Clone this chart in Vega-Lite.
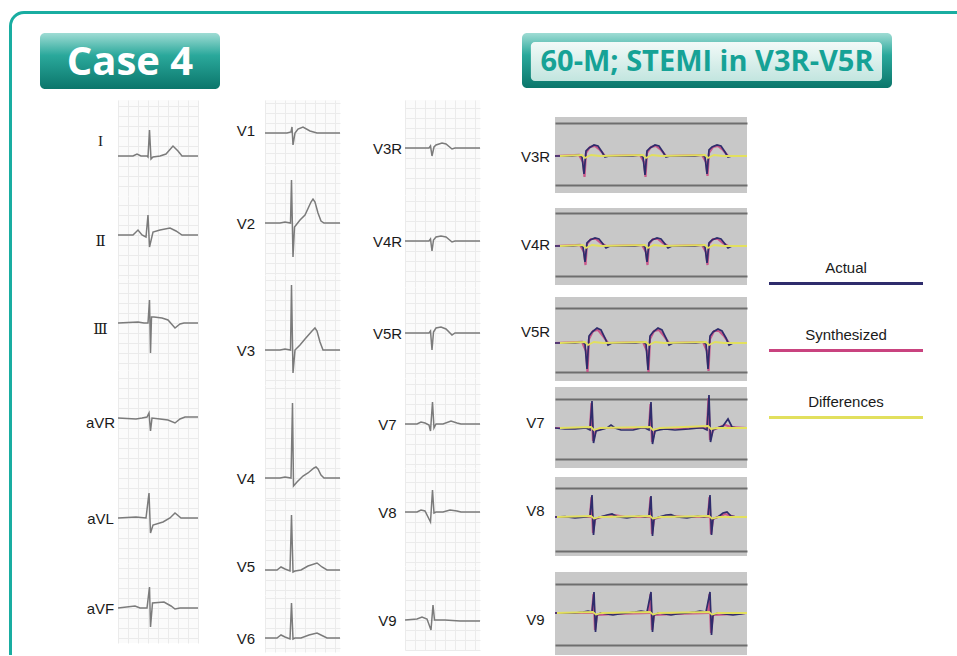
{
"$schema": "https://vega.github.io/schema/vega-lite/v6.json",
"padding": {"left": 9, "top": 11, "right": 0, "bottom": 0},
"background": "white",
"spacing": 0,
"config": {
  "view": {"stroke": null},
  "axis": {"domain": false, "ticks": false, "labelOverlap": false, "labelFlush": false, "labelBound": false, "labelFont": "Liberation Sans", "labelColor": "#1a1a1a", "labelAlign": "center", "labelBaseline": "middle", "labelAngle": 0, "gridColor": "#ebebeb", "gridWidth": 1},
  "axisX": {"labels": false, "grid": true}
},
"datasets": {
  "ecg": [
    {"lead":"I","t":0,"mv":0},{"lead":"I","t":0.15,"mv":0},{"lead":"I","t":0.19,"mv":0.1},{"lead":"I","t":0.23,"mv":0},{"lead":"I","t":0.29,"mv":0},{"lead":"I","t":0.3,"mv":-0.05},{"lead":"I","t":0.315,"mv":1.3},{"lead":"I","t":0.33,"mv":-0.15},{"lead":"I","t":0.35,"mv":-0.05},{"lead":"I","t":0.42,"mv":0},{"lead":"I","t":0.48,"mv":0.1},{"lead":"I","t":0.55,"mv":0.5},{"lead":"I","t":0.6,"mv":0.25},{"lead":"I","t":0.64,"mv":0},{"lead":"I","t":0.8,"mv":0},
    {"lead":"II","t":0,"mv":0},{"lead":"II","t":0.15,"mv":0},{"lead":"II","t":0.2,"mv":0.25},{"lead":"II","t":0.24,"mv":0},{"lead":"II","t":0.28,"mv":-0.1},{"lead":"II","t":0.3,"mv":1.0},{"lead":"II","t":0.315,"mv":-0.6},{"lead":"II","t":0.35,"mv":0.15},{"lead":"II","t":0.42,"mv":0.25},{"lead":"II","t":0.52,"mv":0.35},{"lead":"II","t":0.58,"mv":0.2},{"lead":"II","t":0.64,"mv":0},{"lead":"II","t":0.8,"mv":0},
    {"lead":"III","t":0,"mv":0},{"lead":"III","t":0.2,"mv":0.05},{"lead":"III","t":0.26,"mv":0},{"lead":"III","t":0.3,"mv":0},{"lead":"III","t":0.315,"mv":1.15},{"lead":"III","t":0.325,"mv":-1.5},{"lead":"III","t":0.335,"mv":0.3},{"lead":"III","t":0.36,"mv":0.3},{"lead":"III","t":0.44,"mv":0.25},{"lead":"III","t":0.5,"mv":0.15},{"lead":"III","t":0.57,"mv":-0.25},{"lead":"III","t":0.62,"mv":-0.05},{"lead":"III","t":0.66,"mv":0},{"lead":"III","t":0.8,"mv":0},
    {"lead":"aVR","t":0,"mv":0},{"lead":"aVR","t":0.18,"mv":-0.05},{"lead":"aVR","t":0.24,"mv":0},{"lead":"aVR","t":0.29,"mv":0.05},{"lead":"aVR","t":0.31,"mv":0.25},{"lead":"aVR","t":0.325,"mv":-0.65},{"lead":"aVR","t":0.34,"mv":0},{"lead":"aVR","t":0.42,"mv":-0.05},{"lead":"aVR","t":0.5,"mv":-0.1},{"lead":"aVR","t":0.57,"mv":-0.25},{"lead":"aVR","t":0.62,"mv":-0.05},{"lead":"aVR","t":0.67,"mv":0.05},{"lead":"aVR","t":0.8,"mv":0.05},
    {"lead":"aVL","t":0,"mv":0},{"lead":"aVL","t":0.18,"mv":0.05},{"lead":"aVL","t":0.28,"mv":0},{"lead":"aVL","t":0.31,"mv":1.25},{"lead":"aVL","t":0.325,"mv":-0.75},{"lead":"aVL","t":0.35,"mv":-0.35},{"lead":"aVL","t":0.45,"mv":-0.2},{"lead":"aVL","t":0.52,"mv":0},{"lead":"aVL","t":0.57,"mv":0.25},{"lead":"aVL","t":0.63,"mv":0},{"lead":"aVL","t":0.8,"mv":0},
    {"lead":"aVF","t":0,"mv":0},{"lead":"aVF","t":0.17,"mv":0.1},{"lead":"aVF","t":0.22,"mv":0},{"lead":"aVF","t":0.29,"mv":0},{"lead":"aVF","t":0.315,"mv":1.05},{"lead":"aVF","t":0.325,"mv":-0.95},{"lead":"aVF","t":0.345,"mv":0.25},{"lead":"aVF","t":0.46,"mv":0.3},{"lead":"aVF","t":0.53,"mv":0.1},{"lead":"aVF","t":0.57,"mv":-0.05},{"lead":"aVF","t":0.62,"mv":0},{"lead":"aVF","t":0.8,"mv":0},
    {"lead":"V1","t":0,"mv":0},{"lead":"V1","t":0.22,"mv":0},{"lead":"V1","t":0.26,"mv":0.05},{"lead":"V1","t":0.27,"mv":0.3},{"lead":"V1","t":0.28,"mv":-0.6},{"lead":"V1","t":0.3,"mv":0},{"lead":"V1","t":0.33,"mv":0.2},{"lead":"V1","t":0.38,"mv":0.3},{"lead":"V1","t":0.45,"mv":0.1},{"lead":"V1","t":0.52,"mv":0},{"lead":"V1","t":0.75,"mv":0},
    {"lead":"V2","t":0,"mv":0},{"lead":"V2","t":0.15,"mv":0},{"lead":"V2","t":0.2,"mv":0.05},{"lead":"V2","t":0.255,"mv":0},{"lead":"V2","t":0.265,"mv":2.15},{"lead":"V2","t":0.28,"mv":-1.7},{"lead":"V2","t":0.295,"mv":-0.2},{"lead":"V2","t":0.35,"mv":0.15},{"lead":"V2","t":0.4,"mv":0.4},{"lead":"V2","t":0.46,"mv":1.05},{"lead":"V2","t":0.48,"mv":1.2},{"lead":"V2","t":0.5,"mv":1.05},{"lead":"V2","t":0.53,"mv":0.5},{"lead":"V2","t":0.56,"mv":0.1},{"lead":"V2","t":0.59,"mv":0},{"lead":"V2","t":0.75,"mv":0},
    {"lead":"V3","t":0,"mv":0},{"lead":"V3","t":0.15,"mv":0},{"lead":"V3","t":0.2,"mv":0.05},{"lead":"V3","t":0.255,"mv":0},{"lead":"V3","t":0.265,"mv":3.25},{"lead":"V3","t":0.28,"mv":-1.15},{"lead":"V3","t":0.3,"mv":0},{"lead":"V3","t":0.35,"mv":0.25},{"lead":"V3","t":0.4,"mv":0.55},{"lead":"V3","t":0.47,"mv":0.95},{"lead":"V3","t":0.5,"mv":1.1},{"lead":"V3","t":0.52,"mv":0.95},{"lead":"V3","t":0.55,"mv":0.4},{"lead":"V3","t":0.58,"mv":0},{"lead":"V3","t":0.75,"mv":0},
    {"lead":"V4","t":0,"mv":0},{"lead":"V4","t":0.15,"mv":0},{"lead":"V4","t":0.2,"mv":0.05},{"lead":"V4","t":0.26,"mv":0},{"lead":"V4","t":0.275,"mv":3.75},{"lead":"V4","t":0.285,"mv":-0.4},{"lead":"V4","t":0.32,"mv":-0.2},{"lead":"V4","t":0.38,"mv":0.1},{"lead":"V4","t":0.43,"mv":0.25},{"lead":"V4","t":0.49,"mv":0.5},{"lead":"V4","t":0.51,"mv":0.55},{"lead":"V4","t":0.53,"mv":0.45},{"lead":"V4","t":0.56,"mv":0.15},{"lead":"V4","t":0.59,"mv":0},{"lead":"V4","t":0.75,"mv":0},
    {"lead":"V5","t":0,"mv":0},{"lead":"V5","t":0.12,"mv":0},{"lead":"V5","t":0.16,"mv":0.15},{"lead":"V5","t":0.2,"mv":0.05},{"lead":"V5","t":0.25,"mv":-0.05},{"lead":"V5","t":0.265,"mv":2.75},{"lead":"V5","t":0.28,"mv":-0.1},{"lead":"V5","t":0.3,"mv":-0.05},{"lead":"V5","t":0.36,"mv":0},{"lead":"V5","t":0.43,"mv":0.2},{"lead":"V5","t":0.52,"mv":0.35},{"lead":"V5","t":0.57,"mv":0.15},{"lead":"V5","t":0.62,"mv":0},{"lead":"V5","t":0.75,"mv":0},
    {"lead":"V6","t":0,"mv":0},{"lead":"V6","t":0.12,"mv":0},{"lead":"V6","t":0.16,"mv":0.15},{"lead":"V6","t":0.2,"mv":0.05},{"lead":"V6","t":0.25,"mv":-0.05},{"lead":"V6","t":0.265,"mv":1.75},{"lead":"V6","t":0.28,"mv":-0.05},{"lead":"V6","t":0.3,"mv":0},{"lead":"V6","t":0.36,"mv":0},{"lead":"V6","t":0.44,"mv":0.15},{"lead":"V6","t":0.52,"mv":0.25},{"lead":"V6","t":0.58,"mv":0.1},{"lead":"V6","t":0.62,"mv":0},{"lead":"V6","t":0.75,"mv":0},
    {"lead":"V3R","t":0,"mv":0},{"lead":"V3R","t":0.24,"mv":0},{"lead":"V3R","t":0.255,"mv":0.1},{"lead":"V3R","t":0.27,"mv":-0.4},{"lead":"V3R","t":0.29,"mv":0.05},{"lead":"V3R","t":0.31,"mv":0.15},{"lead":"V3R","t":0.37,"mv":0.25},{"lead":"V3R","t":0.41,"mv":0.2},{"lead":"V3R","t":0.47,"mv":-0.05},{"lead":"V3R","t":0.5,"mv":0},{"lead":"V3R","t":0.75,"mv":0},
    {"lead":"V4R","t":0,"mv":0},{"lead":"V4R","t":0.24,"mv":0},{"lead":"V4R","t":0.255,"mv":0.1},{"lead":"V4R","t":0.27,"mv":-0.5},{"lead":"V4R","t":0.285,"mv":0.05},{"lead":"V4R","t":0.31,"mv":0.2},{"lead":"V4R","t":0.36,"mv":0.25},{"lead":"V4R","t":0.41,"mv":0.2},{"lead":"V4R","t":0.47,"mv":-0.05},{"lead":"V4R","t":0.5,"mv":0},{"lead":"V4R","t":0.75,"mv":0},
    {"lead":"V5R","t":0,"mv":0},{"lead":"V5R","t":0.24,"mv":0},{"lead":"V5R","t":0.255,"mv":0.1},{"lead":"V5R","t":0.27,"mv":-0.85},{"lead":"V5R","t":0.285,"mv":0.05},{"lead":"V5R","t":0.31,"mv":0.25},{"lead":"V5R","t":0.36,"mv":0.3},{"lead":"V5R","t":0.41,"mv":0.2},{"lead":"V5R","t":0.47,"mv":-0.1},{"lead":"V5R","t":0.5,"mv":0},{"lead":"V5R","t":0.75,"mv":0},
    {"lead":"V7","t":0,"mv":0},{"lead":"V7","t":0.12,"mv":0},{"lead":"V7","t":0.16,"mv":0.1},{"lead":"V7","t":0.2,"mv":0.05},{"lead":"V7","t":0.24,"mv":-0.05},{"lead":"V7","t":0.255,"mv":-0.35},{"lead":"V7","t":0.275,"mv":1.1},{"lead":"V7","t":0.29,"mv":-0.2},{"lead":"V7","t":0.31,"mv":0},{"lead":"V7","t":0.38,"mv":0},{"lead":"V7","t":0.46,"mv":0.15},{"lead":"V7","t":0.52,"mv":0.05},{"lead":"V7","t":0.56,"mv":0},{"lead":"V7","t":0.75,"mv":0},
    {"lead":"V8","t":0,"mv":0},{"lead":"V8","t":0.12,"mv":0},{"lead":"V8","t":0.16,"mv":0.1},{"lead":"V8","t":0.2,"mv":0.05},{"lead":"V8","t":0.255,"mv":-0.5},{"lead":"V8","t":0.275,"mv":1.1},{"lead":"V8","t":0.29,"mv":-0.05},{"lead":"V8","t":0.31,"mv":0},{"lead":"V8","t":0.38,"mv":0},{"lead":"V8","t":0.45,"mv":0.1},{"lead":"V8","t":0.52,"mv":0.05},{"lead":"V8","t":0.56,"mv":0},{"lead":"V8","t":0.75,"mv":0},
    {"lead":"V9","t":0,"mv":0},{"lead":"V9","t":0.12,"mv":0.05},{"lead":"V9","t":0.17,"mv":0.15},{"lead":"V9","t":0.22,"mv":0.05},{"lead":"V9","t":0.26,"mv":-0.5},{"lead":"V9","t":0.28,"mv":0.75},{"lead":"V9","t":0.295,"mv":0},{"lead":"V9","t":0.4,"mv":0},{"lead":"V9","t":0.55,"mv":-0.05},{"lead":"V9","t":0.75,"mv":-0.05}
  ],
  "panel": [
    {"lead":"V3R","series":"Actual","t":0,"mv":0},{"lead":"V3R","series":"Actual","t":0.17,"mv":0},{"lead":"V3R","series":"Actual","t":0.24,"mv":0.05},{"lead":"V3R","series":"Actual","t":0.27,"mv":-0.05},{"lead":"V3R","series":"Actual","t":0.29,"mv":-0.9},{"lead":"V3R","series":"Actual","t":0.31,"mv":0.25},{"lead":"V3R","series":"Actual","t":0.34,"mv":0.4},{"lead":"V3R","series":"Actual","t":0.39,"mv":0.55},{"lead":"V3R","series":"Actual","t":0.43,"mv":0.5},{"lead":"V3R","series":"Actual","t":0.47,"mv":0.2},{"lead":"V3R","series":"Actual","t":0.5,"mv":-0.05},{"lead":"V3R","series":"Actual","t":0.54,"mv":0},{"lead":"V3R","series":"Actual","t":0.78,"mv":0},{"lead":"V3R","series":"Actual","t":0.85,"mv":0.05},{"lead":"V3R","series":"Actual","t":0.88,"mv":-0.05},{"lead":"V3R","series":"Actual","t":0.9,"mv":-0.95},{"lead":"V3R","series":"Actual","t":0.92,"mv":0.25},{"lead":"V3R","series":"Actual","t":0.95,"mv":0.4},{"lead":"V3R","series":"Actual","t":1.0,"mv":0.55},{"lead":"V3R","series":"Actual","t":1.04,"mv":0.5},{"lead":"V3R","series":"Actual","t":1.08,"mv":0.2},{"lead":"V3R","series":"Actual","t":1.11,"mv":-0.05},{"lead":"V3R","series":"Actual","t":1.15,"mv":0},{"lead":"V3R","series":"Actual","t":1.4,"mv":0},{"lead":"V3R","series":"Actual","t":1.47,"mv":0.05},{"lead":"V3R","series":"Actual","t":1.5,"mv":-0.05},{"lead":"V3R","series":"Actual","t":1.52,"mv":-0.9},{"lead":"V3R","series":"Actual","t":1.54,"mv":0.3},{"lead":"V3R","series":"Actual","t":1.57,"mv":0.45},{"lead":"V3R","series":"Actual","t":1.62,"mv":0.55},{"lead":"V3R","series":"Actual","t":1.66,"mv":0.5},{"lead":"V3R","series":"Actual","t":1.7,"mv":0.2},{"lead":"V3R","series":"Actual","t":1.73,"mv":-0.05},{"lead":"V3R","series":"Actual","t":1.77,"mv":0},{"lead":"V3R","series":"Actual","t":1.92,"mv":0},
    {"lead":"V3R","series":"Synthesized","t":0,"mv":0},{"lead":"V3R","series":"Synthesized","t":0.24,"mv":0.05},{"lead":"V3R","series":"Synthesized","t":0.28,"mv":-0.3},{"lead":"V3R","series":"Synthesized","t":0.295,"mv":-1.05},{"lead":"V3R","series":"Synthesized","t":0.31,"mv":0.15},{"lead":"V3R","series":"Synthesized","t":0.35,"mv":0.45},{"lead":"V3R","series":"Synthesized","t":0.4,"mv":0.5},{"lead":"V3R","series":"Synthesized","t":0.45,"mv":0.3},{"lead":"V3R","series":"Synthesized","t":0.5,"mv":0},{"lead":"V3R","series":"Synthesized","t":0.85,"mv":0.05},{"lead":"V3R","series":"Synthesized","t":0.89,"mv":-0.3},{"lead":"V3R","series":"Synthesized","t":0.905,"mv":-1.05},{"lead":"V3R","series":"Synthesized","t":0.92,"mv":0.15},{"lead":"V3R","series":"Synthesized","t":0.96,"mv":0.45},{"lead":"V3R","series":"Synthesized","t":1.01,"mv":0.5},{"lead":"V3R","series":"Synthesized","t":1.06,"mv":0.3},{"lead":"V3R","series":"Synthesized","t":1.11,"mv":0},{"lead":"V3R","series":"Synthesized","t":1.47,"mv":0.05},{"lead":"V3R","series":"Synthesized","t":1.51,"mv":-0.3},{"lead":"V3R","series":"Synthesized","t":1.525,"mv":-1.0},{"lead":"V3R","series":"Synthesized","t":1.54,"mv":0.15},{"lead":"V3R","series":"Synthesized","t":1.58,"mv":0.45},{"lead":"V3R","series":"Synthesized","t":1.63,"mv":0.5},{"lead":"V3R","series":"Synthesized","t":1.68,"mv":0.3},{"lead":"V3R","series":"Synthesized","t":1.73,"mv":0},{"lead":"V3R","series":"Synthesized","t":1.92,"mv":0},
    {"lead":"V3R","series":"Differences","t":0.05,"mv":0},{"lead":"V3R","series":"Differences","t":0.27,"mv":0.05},{"lead":"V3R","series":"Differences","t":0.3,"mv":-0.1},{"lead":"V3R","series":"Differences","t":0.36,"mv":0.05},{"lead":"V3R","series":"Differences","t":0.45,"mv":0},{"lead":"V3R","series":"Differences","t":0.88,"mv":0.05},{"lead":"V3R","series":"Differences","t":0.91,"mv":-0.1},{"lead":"V3R","series":"Differences","t":0.97,"mv":0.05},{"lead":"V3R","series":"Differences","t":1.06,"mv":0},{"lead":"V3R","series":"Differences","t":1.5,"mv":0.05},{"lead":"V3R","series":"Differences","t":1.53,"mv":-0.1},{"lead":"V3R","series":"Differences","t":1.59,"mv":0.05},{"lead":"V3R","series":"Differences","t":1.68,"mv":0},{"lead":"V3R","series":"Differences","t":1.92,"mv":0},
    {"lead":"V4R","series":"Actual","t":0,"mv":0},{"lead":"V4R","series":"Actual","t":0.18,"mv":0},{"lead":"V4R","series":"Actual","t":0.25,"mv":0.05},{"lead":"V4R","series":"Actual","t":0.28,"mv":-0.05},{"lead":"V4R","series":"Actual","t":0.3,"mv":-0.8},{"lead":"V4R","series":"Actual","t":0.32,"mv":0.15},{"lead":"V4R","series":"Actual","t":0.35,"mv":0.3},{"lead":"V4R","series":"Actual","t":0.4,"mv":0.4},{"lead":"V4R","series":"Actual","t":0.44,"mv":0.35},{"lead":"V4R","series":"Actual","t":0.48,"mv":0.1},{"lead":"V4R","series":"Actual","t":0.51,"mv":-0.1},{"lead":"V4R","series":"Actual","t":0.55,"mv":0},{"lead":"V4R","series":"Actual","t":0.8,"mv":0},{"lead":"V4R","series":"Actual","t":0.87,"mv":0.05},{"lead":"V4R","series":"Actual","t":0.9,"mv":-0.05},{"lead":"V4R","series":"Actual","t":0.92,"mv":-0.8},{"lead":"V4R","series":"Actual","t":0.94,"mv":0.15},{"lead":"V4R","series":"Actual","t":0.97,"mv":0.3},{"lead":"V4R","series":"Actual","t":1.02,"mv":0.4},{"lead":"V4R","series":"Actual","t":1.06,"mv":0.35},{"lead":"V4R","series":"Actual","t":1.1,"mv":0.1},{"lead":"V4R","series":"Actual","t":1.13,"mv":-0.1},{"lead":"V4R","series":"Actual","t":1.17,"mv":0},{"lead":"V4R","series":"Actual","t":1.4,"mv":0},{"lead":"V4R","series":"Actual","t":1.47,"mv":0.05},{"lead":"V4R","series":"Actual","t":1.5,"mv":-0.05},{"lead":"V4R","series":"Actual","t":1.52,"mv":-0.85},{"lead":"V4R","series":"Actual","t":1.54,"mv":0.15},{"lead":"V4R","series":"Actual","t":1.57,"mv":0.3},{"lead":"V4R","series":"Actual","t":1.62,"mv":0.4},{"lead":"V4R","series":"Actual","t":1.66,"mv":0.35},{"lead":"V4R","series":"Actual","t":1.7,"mv":0.1},{"lead":"V4R","series":"Actual","t":1.73,"mv":-0.1},{"lead":"V4R","series":"Actual","t":1.77,"mv":0},{"lead":"V4R","series":"Actual","t":1.92,"mv":0},
    {"lead":"V4R","series":"Synthesized","t":0,"mv":0},{"lead":"V4R","series":"Synthesized","t":0.25,"mv":0.05},{"lead":"V4R","series":"Synthesized","t":0.29,"mv":-0.3},{"lead":"V4R","series":"Synthesized","t":0.305,"mv":-0.95},{"lead":"V4R","series":"Synthesized","t":0.32,"mv":0.1},{"lead":"V4R","series":"Synthesized","t":0.36,"mv":0.35},{"lead":"V4R","series":"Synthesized","t":0.41,"mv":0.35},{"lead":"V4R","series":"Synthesized","t":0.46,"mv":0.15},{"lead":"V4R","series":"Synthesized","t":0.51,"mv":0},{"lead":"V4R","series":"Synthesized","t":0.87,"mv":0.05},{"lead":"V4R","series":"Synthesized","t":0.91,"mv":-0.3},{"lead":"V4R","series":"Synthesized","t":0.925,"mv":-0.95},{"lead":"V4R","series":"Synthesized","t":0.94,"mv":0.1},{"lead":"V4R","series":"Synthesized","t":0.98,"mv":0.35},{"lead":"V4R","series":"Synthesized","t":1.03,"mv":0.35},{"lead":"V4R","series":"Synthesized","t":1.08,"mv":0.15},{"lead":"V4R","series":"Synthesized","t":1.13,"mv":0},{"lead":"V4R","series":"Synthesized","t":1.47,"mv":0.05},{"lead":"V4R","series":"Synthesized","t":1.51,"mv":-0.3},{"lead":"V4R","series":"Synthesized","t":1.525,"mv":-0.95},{"lead":"V4R","series":"Synthesized","t":1.54,"mv":0.1},{"lead":"V4R","series":"Synthesized","t":1.58,"mv":0.35},{"lead":"V4R","series":"Synthesized","t":1.63,"mv":0.35},{"lead":"V4R","series":"Synthesized","t":1.68,"mv":0.15},{"lead":"V4R","series":"Synthesized","t":1.73,"mv":0},{"lead":"V4R","series":"Synthesized","t":1.92,"mv":0},
    {"lead":"V4R","series":"Differences","t":0.05,"mv":0},{"lead":"V4R","series":"Differences","t":0.28,"mv":0.05},{"lead":"V4R","series":"Differences","t":0.31,"mv":-0.1},{"lead":"V4R","series":"Differences","t":0.37,"mv":0.05},{"lead":"V4R","series":"Differences","t":0.46,"mv":0},{"lead":"V4R","series":"Differences","t":0.9,"mv":0.05},{"lead":"V4R","series":"Differences","t":0.93,"mv":-0.1},{"lead":"V4R","series":"Differences","t":0.99,"mv":0.05},{"lead":"V4R","series":"Differences","t":1.08,"mv":0},{"lead":"V4R","series":"Differences","t":1.5,"mv":0.05},{"lead":"V4R","series":"Differences","t":1.53,"mv":-0.1},{"lead":"V4R","series":"Differences","t":1.59,"mv":0.05},{"lead":"V4R","series":"Differences","t":1.68,"mv":0},{"lead":"V4R","series":"Differences","t":1.92,"mv":0},
    {"lead":"V5R","series":"Actual","t":0,"mv":0},{"lead":"V5R","series":"Actual","t":0.2,"mv":0},{"lead":"V5R","series":"Actual","t":0.27,"mv":0.05},{"lead":"V5R","series":"Actual","t":0.3,"mv":-0.05},{"lead":"V5R","series":"Actual","t":0.32,"mv":-1.3},{"lead":"V5R","series":"Actual","t":0.34,"mv":0.35},{"lead":"V5R","series":"Actual","t":0.37,"mv":0.55},{"lead":"V5R","series":"Actual","t":0.42,"mv":0.75},{"lead":"V5R","series":"Actual","t":0.46,"mv":0.65},{"lead":"V5R","series":"Actual","t":0.5,"mv":0.25},{"lead":"V5R","series":"Actual","t":0.53,"mv":-0.1},{"lead":"V5R","series":"Actual","t":0.57,"mv":0},{"lead":"V5R","series":"Actual","t":0.81,"mv":0},{"lead":"V5R","series":"Actual","t":0.88,"mv":0.05},{"lead":"V5R","series":"Actual","t":0.91,"mv":-0.05},{"lead":"V5R","series":"Actual","t":0.93,"mv":-1.35},{"lead":"V5R","series":"Actual","t":0.95,"mv":0.35},{"lead":"V5R","series":"Actual","t":0.98,"mv":0.55},{"lead":"V5R","series":"Actual","t":1.03,"mv":0.75},{"lead":"V5R","series":"Actual","t":1.07,"mv":0.65},{"lead":"V5R","series":"Actual","t":1.11,"mv":0.25},{"lead":"V5R","series":"Actual","t":1.14,"mv":-0.1},{"lead":"V5R","series":"Actual","t":1.18,"mv":0},{"lead":"V5R","series":"Actual","t":1.41,"mv":0},{"lead":"V5R","series":"Actual","t":1.48,"mv":0.05},{"lead":"V5R","series":"Actual","t":1.51,"mv":-0.05},{"lead":"V5R","series":"Actual","t":1.53,"mv":-1.3},{"lead":"V5R","series":"Actual","t":1.55,"mv":0.35},{"lead":"V5R","series":"Actual","t":1.58,"mv":0.55},{"lead":"V5R","series":"Actual","t":1.63,"mv":0.7},{"lead":"V5R","series":"Actual","t":1.67,"mv":0.6},{"lead":"V5R","series":"Actual","t":1.71,"mv":0.25},{"lead":"V5R","series":"Actual","t":1.74,"mv":-0.1},{"lead":"V5R","series":"Actual","t":1.78,"mv":0},{"lead":"V5R","series":"Actual","t":1.92,"mv":0},
    {"lead":"V5R","series":"Synthesized","t":0,"mv":0},{"lead":"V5R","series":"Synthesized","t":0.27,"mv":0.05},{"lead":"V5R","series":"Synthesized","t":0.31,"mv":-0.4},{"lead":"V5R","series":"Synthesized","t":0.325,"mv":-1.45},{"lead":"V5R","series":"Synthesized","t":0.34,"mv":0.2},{"lead":"V5R","series":"Synthesized","t":0.38,"mv":0.6},{"lead":"V5R","series":"Synthesized","t":0.43,"mv":0.65},{"lead":"V5R","series":"Synthesized","t":0.48,"mv":0.35},{"lead":"V5R","series":"Synthesized","t":0.53,"mv":0},{"lead":"V5R","series":"Synthesized","t":0.88,"mv":0.05},{"lead":"V5R","series":"Synthesized","t":0.92,"mv":-0.4},{"lead":"V5R","series":"Synthesized","t":0.935,"mv":-1.45},{"lead":"V5R","series":"Synthesized","t":0.95,"mv":0.2},{"lead":"V5R","series":"Synthesized","t":0.99,"mv":0.6},{"lead":"V5R","series":"Synthesized","t":1.04,"mv":0.65},{"lead":"V5R","series":"Synthesized","t":1.09,"mv":0.35},{"lead":"V5R","series":"Synthesized","t":1.14,"mv":0},{"lead":"V5R","series":"Synthesized","t":1.48,"mv":0.05},{"lead":"V5R","series":"Synthesized","t":1.52,"mv":-0.4},{"lead":"V5R","series":"Synthesized","t":1.535,"mv":-1.4},{"lead":"V5R","series":"Synthesized","t":1.55,"mv":0.2},{"lead":"V5R","series":"Synthesized","t":1.59,"mv":0.6},{"lead":"V5R","series":"Synthesized","t":1.64,"mv":0.6},{"lead":"V5R","series":"Synthesized","t":1.69,"mv":0.35},{"lead":"V5R","series":"Synthesized","t":1.74,"mv":0},{"lead":"V5R","series":"Synthesized","t":1.92,"mv":0},
    {"lead":"V5R","series":"Differences","t":0.05,"mv":0},{"lead":"V5R","series":"Differences","t":0.3,"mv":0.05},{"lead":"V5R","series":"Differences","t":0.33,"mv":-0.1},{"lead":"V5R","series":"Differences","t":0.39,"mv":0.05},{"lead":"V5R","series":"Differences","t":0.48,"mv":0},{"lead":"V5R","series":"Differences","t":0.91,"mv":0.05},{"lead":"V5R","series":"Differences","t":0.94,"mv":-0.1},{"lead":"V5R","series":"Differences","t":1.0,"mv":0.05},{"lead":"V5R","series":"Differences","t":1.09,"mv":0},{"lead":"V5R","series":"Differences","t":1.51,"mv":0.05},{"lead":"V5R","series":"Differences","t":1.54,"mv":-0.1},{"lead":"V5R","series":"Differences","t":1.6,"mv":0.05},{"lead":"V5R","series":"Differences","t":1.69,"mv":0},{"lead":"V5R","series":"Differences","t":1.92,"mv":0},
    {"lead":"V7","series":"Actual","t":0,"mv":0},{"lead":"V7","series":"Actual","t":0.1,"mv":-0.05},{"lead":"V7","series":"Actual","t":0.2,"mv":-0.05},{"lead":"V7","series":"Actual","t":0.31,"mv":0},{"lead":"V7","series":"Actual","t":0.35,"mv":-0.1},{"lead":"V7","series":"Actual","t":0.37,"mv":1.35},{"lead":"V7","series":"Actual","t":0.385,"mv":-0.75},{"lead":"V7","series":"Actual","t":0.41,"mv":-0.15},{"lead":"V7","series":"Actual","t":0.45,"mv":-0.1},{"lead":"V7","series":"Actual","t":0.52,"mv":0},{"lead":"V7","series":"Actual","t":0.56,"mv":0.15},{"lead":"V7","series":"Actual","t":0.6,"mv":0},{"lead":"V7","series":"Actual","t":0.66,"mv":-0.1},{"lead":"V7","series":"Actual","t":0.78,"mv":-0.1},{"lead":"V7","series":"Actual","t":0.86,"mv":0},{"lead":"V7","series":"Actual","t":0.9,"mv":0},{"lead":"V7","series":"Actual","t":0.94,"mv":-0.1},{"lead":"V7","series":"Actual","t":0.96,"mv":1.3},{"lead":"V7","series":"Actual","t":0.975,"mv":-0.8},{"lead":"V7","series":"Actual","t":1.0,"mv":-0.15},{"lead":"V7","series":"Actual","t":1.04,"mv":-0.1},{"lead":"V7","series":"Actual","t":1.1,"mv":-0.05},{"lead":"V7","series":"Actual","t":1.2,"mv":-0.1},{"lead":"V7","series":"Actual","t":1.34,"mv":-0.05},{"lead":"V7","series":"Actual","t":1.44,"mv":0},{"lead":"V7","series":"Actual","t":1.48,"mv":0},{"lead":"V7","series":"Actual","t":1.52,"mv":-0.1},{"lead":"V7","series":"Actual","t":1.54,"mv":1.65},{"lead":"V7","series":"Actual","t":1.555,"mv":-0.7},{"lead":"V7","series":"Actual","t":1.58,"mv":-0.1},{"lead":"V7","series":"Actual","t":1.62,"mv":0},{"lead":"V7","series":"Actual","t":1.68,"mv":0.1},{"lead":"V7","series":"Actual","t":1.73,"mv":0.45},{"lead":"V7","series":"Actual","t":1.77,"mv":0.05},{"lead":"V7","series":"Actual","t":1.82,"mv":0},{"lead":"V7","series":"Actual","t":1.92,"mv":0},
    {"lead":"V7","series":"Synthesized","t":0,"mv":0},{"lead":"V7","series":"Synthesized","t":0.35,"mv":0},{"lead":"V7","series":"Synthesized","t":0.365,"mv":1.25},{"lead":"V7","series":"Synthesized","t":0.38,"mv":-0.65},{"lead":"V7","series":"Synthesized","t":0.41,"mv":-0.1},{"lead":"V7","series":"Synthesized","t":0.5,"mv":0},{"lead":"V7","series":"Synthesized","t":0.94,"mv":0},{"lead":"V7","series":"Synthesized","t":0.955,"mv":1.2},{"lead":"V7","series":"Synthesized","t":0.97,"mv":-0.7},{"lead":"V7","series":"Synthesized","t":1.0,"mv":-0.1},{"lead":"V7","series":"Synthesized","t":1.1,"mv":0},{"lead":"V7","series":"Synthesized","t":1.52,"mv":0},{"lead":"V7","series":"Synthesized","t":1.535,"mv":1.5},{"lead":"V7","series":"Synthesized","t":1.55,"mv":-0.6},{"lead":"V7","series":"Synthesized","t":1.58,"mv":-0.1},{"lead":"V7","series":"Synthesized","t":1.7,"mv":0.15},{"lead":"V7","series":"Synthesized","t":1.76,"mv":0.05},{"lead":"V7","series":"Synthesized","t":1.92,"mv":0},
    {"lead":"V7","series":"Differences","t":0.05,"mv":0},{"lead":"V7","series":"Differences","t":0.36,"mv":0.05},{"lead":"V7","series":"Differences","t":0.39,"mv":-0.1},{"lead":"V7","series":"Differences","t":0.45,"mv":0},{"lead":"V7","series":"Differences","t":0.95,"mv":0.05},{"lead":"V7","series":"Differences","t":0.98,"mv":-0.1},{"lead":"V7","series":"Differences","t":1.05,"mv":0},{"lead":"V7","series":"Differences","t":1.53,"mv":0.1},{"lead":"V7","series":"Differences","t":1.56,"mv":-0.05},{"lead":"V7","series":"Differences","t":1.62,"mv":0},{"lead":"V7","series":"Differences","t":1.92,"mv":0},
    {"lead":"V8","series":"Actual","t":0,"mv":0},{"lead":"V8","series":"Actual","t":0.1,"mv":0.02},{"lead":"V8","series":"Actual","t":0.2,"mv":-0.05},{"lead":"V8","series":"Actual","t":0.31,"mv":0},{"lead":"V8","series":"Actual","t":0.35,"mv":0.05},{"lead":"V8","series":"Actual","t":0.37,"mv":1.1},{"lead":"V8","series":"Actual","t":0.385,"mv":-0.9},{"lead":"V8","series":"Actual","t":0.4,"mv":-0.1},{"lead":"V8","series":"Actual","t":0.45,"mv":0},{"lead":"V8","series":"Actual","t":0.52,"mv":0.1},{"lead":"V8","series":"Actual","t":0.57,"mv":0.15},{"lead":"V8","series":"Actual","t":0.62,"mv":0.02},{"lead":"V8","series":"Actual","t":0.72,"mv":-0.05},{"lead":"V8","series":"Actual","t":0.84,"mv":0.05},{"lead":"V8","series":"Actual","t":0.9,"mv":0},{"lead":"V8","series":"Actual","t":0.94,"mv":0.05},{"lead":"V8","series":"Actual","t":0.96,"mv":1.05},{"lead":"V8","series":"Actual","t":0.975,"mv":-0.95},{"lead":"V8","series":"Actual","t":0.99,"mv":-0.1},{"lead":"V8","series":"Actual","t":1.04,"mv":0},{"lead":"V8","series":"Actual","t":1.11,"mv":0.1},{"lead":"V8","series":"Actual","t":1.16,"mv":0.12},{"lead":"V8","series":"Actual","t":1.22,"mv":0},{"lead":"V8","series":"Actual","t":1.32,"mv":-0.05},{"lead":"V8","series":"Actual","t":1.43,"mv":0.05},{"lead":"V8","series":"Actual","t":1.49,"mv":0},{"lead":"V8","series":"Actual","t":1.53,"mv":0.05},{"lead":"V8","series":"Actual","t":1.55,"mv":1.1},{"lead":"V8","series":"Actual","t":1.565,"mv":-0.9},{"lead":"V8","series":"Actual","t":1.58,"mv":-0.1},{"lead":"V8","series":"Actual","t":1.63,"mv":0},{"lead":"V8","series":"Actual","t":1.68,"mv":0.2},{"lead":"V8","series":"Actual","t":1.72,"mv":0.25},{"lead":"V8","series":"Actual","t":1.76,"mv":0.05},{"lead":"V8","series":"Actual","t":1.82,"mv":0},{"lead":"V8","series":"Actual","t":1.92,"mv":0},
    {"lead":"V8","series":"Synthesized","t":0,"mv":0},{"lead":"V8","series":"Synthesized","t":0.35,"mv":0},{"lead":"V8","series":"Synthesized","t":0.365,"mv":1.0},{"lead":"V8","series":"Synthesized","t":0.38,"mv":-0.8},{"lead":"V8","series":"Synthesized","t":0.4,"mv":-0.1},{"lead":"V8","series":"Synthesized","t":0.5,"mv":0.05},{"lead":"V8","series":"Synthesized","t":0.6,"mv":0.1},{"lead":"V8","series":"Synthesized","t":0.7,"mv":0},{"lead":"V8","series":"Synthesized","t":0.94,"mv":0},{"lead":"V8","series":"Synthesized","t":0.955,"mv":1.0},{"lead":"V8","series":"Synthesized","t":0.97,"mv":-0.85},{"lead":"V8","series":"Synthesized","t":0.99,"mv":-0.1},{"lead":"V8","series":"Synthesized","t":1.1,"mv":0.05},{"lead":"V8","series":"Synthesized","t":1.2,"mv":0.05},{"lead":"V8","series":"Synthesized","t":1.3,"mv":0},{"lead":"V8","series":"Synthesized","t":1.53,"mv":0},{"lead":"V8","series":"Synthesized","t":1.545,"mv":1.0},{"lead":"V8","series":"Synthesized","t":1.56,"mv":-0.85},{"lead":"V8","series":"Synthesized","t":1.58,"mv":-0.1},{"lead":"V8","series":"Synthesized","t":1.7,"mv":0.15},{"lead":"V8","series":"Synthesized","t":1.8,"mv":0},{"lead":"V8","series":"Synthesized","t":1.92,"mv":0},
    {"lead":"V8","series":"Differences","t":0.02,"mv":0},{"lead":"V8","series":"Differences","t":0.36,"mv":0.05},{"lead":"V8","series":"Differences","t":0.39,"mv":-0.08},{"lead":"V8","series":"Differences","t":0.45,"mv":0},{"lead":"V8","series":"Differences","t":0.95,"mv":0.05},{"lead":"V8","series":"Differences","t":0.98,"mv":-0.08},{"lead":"V8","series":"Differences","t":1.05,"mv":0},{"lead":"V8","series":"Differences","t":1.54,"mv":0.05},{"lead":"V8","series":"Differences","t":1.57,"mv":-0.08},{"lead":"V8","series":"Differences","t":1.64,"mv":0},{"lead":"V8","series":"Differences","t":1.92,"mv":0},
    {"lead":"V9","series":"Actual","t":0,"mv":0},{"lead":"V9","series":"Actual","t":0.1,"mv":0},{"lead":"V9","series":"Actual","t":0.2,"mv":0},{"lead":"V9","series":"Actual","t":0.28,"mv":0.05},{"lead":"V9","series":"Actual","t":0.33,"mv":0.1},{"lead":"V9","series":"Actual","t":0.37,"mv":0.05},{"lead":"V9","series":"Actual","t":0.39,"mv":1.05},{"lead":"V9","series":"Actual","t":0.405,"mv":-0.95},{"lead":"V9","series":"Actual","t":0.42,"mv":-0.1},{"lead":"V9","series":"Actual","t":0.46,"mv":0},{"lead":"V9","series":"Actual","t":0.52,"mv":-0.05},{"lead":"V9","series":"Actual","t":0.58,"mv":-0.1},{"lead":"V9","series":"Actual","t":0.64,"mv":-0.05},{"lead":"V9","series":"Actual","t":0.72,"mv":0},{"lead":"V9","series":"Actual","t":0.8,"mv":0.05},{"lead":"V9","series":"Actual","t":0.86,"mv":0.1},{"lead":"V9","series":"Actual","t":0.92,"mv":0.05},{"lead":"V9","series":"Actual","t":0.96,"mv":1.05},{"lead":"V9","series":"Actual","t":0.975,"mv":-0.95},{"lead":"V9","series":"Actual","t":0.99,"mv":-0.1},{"lead":"V9","series":"Actual","t":1.04,"mv":0},{"lead":"V9","series":"Actual","t":1.1,"mv":-0.05},{"lead":"V9","series":"Actual","t":1.16,"mv":-0.1},{"lead":"V9","series":"Actual","t":1.22,"mv":-0.05},{"lead":"V9","series":"Actual","t":1.32,"mv":0},{"lead":"V9","series":"Actual","t":1.4,"mv":0.05},{"lead":"V9","series":"Actual","t":1.45,"mv":0.1},{"lead":"V9","series":"Actual","t":1.51,"mv":0.05},{"lead":"V9","series":"Actual","t":1.55,"mv":1.05},{"lead":"V9","series":"Actual","t":1.565,"mv":-1.1},{"lead":"V9","series":"Actual","t":1.58,"mv":-0.1},{"lead":"V9","series":"Actual","t":1.63,"mv":0},{"lead":"V9","series":"Actual","t":1.7,"mv":-0.05},{"lead":"V9","series":"Actual","t":1.78,"mv":-0.1},{"lead":"V9","series":"Actual","t":1.86,"mv":-0.05},{"lead":"V9","series":"Actual","t":1.92,"mv":0},
    {"lead":"V9","series":"Synthesized","t":0,"mv":0},{"lead":"V9","series":"Synthesized","t":0.37,"mv":0},{"lead":"V9","series":"Synthesized","t":0.385,"mv":0.95},{"lead":"V9","series":"Synthesized","t":0.4,"mv":-0.85},{"lead":"V9","series":"Synthesized","t":0.42,"mv":-0.1},{"lead":"V9","series":"Synthesized","t":0.6,"mv":-0.05},{"lead":"V9","series":"Synthesized","t":0.94,"mv":0},{"lead":"V9","series":"Synthesized","t":0.955,"mv":0.95},{"lead":"V9","series":"Synthesized","t":0.97,"mv":-0.85},{"lead":"V9","series":"Synthesized","t":0.99,"mv":-0.1},{"lead":"V9","series":"Synthesized","t":1.2,"mv":-0.05},{"lead":"V9","series":"Synthesized","t":1.53,"mv":0},{"lead":"V9","series":"Synthesized","t":1.545,"mv":0.95},{"lead":"V9","series":"Synthesized","t":1.56,"mv":-1.0},{"lead":"V9","series":"Synthesized","t":1.58,"mv":-0.1},{"lead":"V9","series":"Synthesized","t":1.8,"mv":-0.05},{"lead":"V9","series":"Synthesized","t":1.92,"mv":0},
    {"lead":"V9","series":"Differences","t":0.02,"mv":0},{"lead":"V9","series":"Differences","t":0.38,"mv":0.05},{"lead":"V9","series":"Differences","t":0.41,"mv":-0.08},{"lead":"V9","series":"Differences","t":0.47,"mv":0},{"lead":"V9","series":"Differences","t":0.95,"mv":0.05},{"lead":"V9","series":"Differences","t":0.98,"mv":-0.08},{"lead":"V9","series":"Differences","t":1.04,"mv":0},{"lead":"V9","series":"Differences","t":1.54,"mv":0.05},{"lead":"V9","series":"Differences","t":1.57,"mv":-0.08},{"lead":"V9","series":"Differences","t":1.63,"mv":0},{"lead":"V9","series":"Differences","t":1.92,"mv":0}
  ],
  "legend": [{"series": "Actual"}, {"series": "Synthesized"}, {"series": "Differences"}]
},
"vconcat": [
  {"spacing": 0, "hconcat": [
    {"width": 15, "height": 15, "data": {"values": [{}]},
     "mark": {"type": "arc", "color": "#19ada1", "innerRadius": 12, "outerRadius": 15, "theta": 4.712389, "theta2": 6.283185, "clip": true},
     "encoding": {"x": {"datum": 1, "type": "quantitative", "scale": {"domain": [0, 1], "nice": false}, "axis": null},
                  "y": {"datum": 0, "type": "quantitative", "scale": {"domain": [0, 1], "nice": false}, "axis": null}}},
    {"width": 933, "height": 3, "view": {"fill": "#19ada1"}, "data": {"values": [{}]}, "mark": {"type": "point", "size": 0, "opacity": 0}}
  ]},
  {"spacing": 0, "hconcat": [
    {"width": 3, "height": 629, "view": {"fill": "#19ada1"}, "data": {"values": [{}]}, "mark": {"type": "point", "size": 0, "opacity": 0}},
    {"width": 28, "height": 1, "data": {"values": [{}]}, "mark": {"type": "point", "size": 0, "opacity": 0}},
    {"spacing": 0, "vconcat": [
      {"width": 1, "height": 7, "data": {"values": [{}]}, "mark": {"type": "point", "size": 0, "opacity": 0}},
      {"spacing": 11, "vconcat": [
        {"spacing": 302, "hconcat": [
          {"width": 180, "height": 56,
           "view": {"cornerRadius": 5, "fill": {"gradient": "linear", "x1": 0, "y1": 0, "x2": 0, "y2": 1, "stops": [{"offset": 0, "color": "#9fdcd4"}, {"offset": 0.4, "color": "#2aa89b"}, {"offset": 1, "color": "#0b766b"}]}},
           "data": {"values": [{"label": "Case 4"}]},
           "mark": {"type": "text", "font": "Open Sans", "fontWeight": "bold", "fontSize": 40, "color": "#ffffff", "align": "center", "baseline": "middle", "dy": 2},
           "encoding": {"text": {"field": "label", "type": "nominal"}}},
          {"width": 370, "height": 55,
           "view": {"cornerRadius": 5, "fill": {"gradient": "linear", "x1": 0, "y1": 0, "x2": 0, "y2": 1, "stops": [{"offset": 0, "color": "#9fdcd4"}, {"offset": 0.4, "color": "#2aa89b"}, {"offset": 1, "color": "#0b766b"}]}},
           "data": {"values": [{"label": "60-M; STEMI in V3R-V5R"}]},
           "layer": [
             {"mark": {"type": "rect", "cornerRadius": 4, "fill": {"gradient": "linear", "x1": 0, "y1": 0, "x2": 0, "y2": 1, "stops": [{"offset": 0, "color": "#f2faf8"}, {"offset": 1, "color": "#c2e5df"}]}},
              "encoding": {"x": {"datum": 0.024, "type": "quantitative", "scale": {"domain": [0, 1], "nice": false}, "axis": null}, "x2": {"datum": 0.973}, "y": {"datum": 0.127, "type": "quantitative", "scale": {"domain": [0, 1], "nice": false}, "axis": null}, "y2": {"datum": 0.836}}},
             {"mark": {"type": "text", "font": "Open Sans", "fontWeight": "bold", "fontSize": 29, "color": "#16a296", "align": "center", "baseline": "middle", "dy": 1},
              "encoding": {"text": {"field": "label", "type": "nominal"}}}
           ]}
        ]},
        {"spacing": 0, "hconcat": [
          {"width": 1, "height": 1, "data": {"values": [{}]}, "mark": {"type": "point", "size": 0, "opacity": 0}},
          {"spacing": 0, "vconcat": [
            {"width": 80, "height": 96, "view": {"fill": "#fbfbfb"}, "data": {"name": "ecg"}, "transform": [{"filter": "datum.lead === 'I'"}], "mark": {"type": "line", "color": "#7b7b7b", "strokeWidth": 1.5, "clip": true},
             "encoding": {"x": {"field": "t", "type": "quantitative", "scale": {"domain": [0, 0.8], "nice": false, "zero": false}, "axis": {"title": null, "tickCount": 8}},
                          "y": {"field": "mv", "type": "quantitative", "scale": {"domain": [-2, 2.8], "nice": false, "zero": false}, "axis": {"title": null, "tickCount": 10, "labelExpr": "datum.value === 0 ? 'I' : ''", "labelFontSize": {"condition": {"test": "datum.value !== 0", "value": 0}, "value": 15}, "labelPadding": 18, "minExtent": 77, "labelOffset": {"condition": {"test": "datum.value === 0", "value": -16}, "value": 0}, "labelFont": "Liberation Serif, DejaVu Serif, serif"}}}},
            {"width": 80, "height": 83, "view": {"fill": "#fbfbfb"}, "data": {"name": "ecg"}, "transform": [{"filter": "datum.lead === 'II'"}], "mark": {"type": "line", "color": "#7b7b7b", "strokeWidth": 1.5, "clip": true},
             "encoding": {"x": {"field": "t", "type": "quantitative", "scale": {"domain": [0, 0.8], "nice": false, "zero": false}, "axis": {"title": null, "tickCount": 8}},
                          "y": {"field": "mv", "type": "quantitative", "scale": {"domain": [-2.2, 1.95], "nice": false, "zero": false}, "axis": {"title": null, "tickCount": 8, "labelExpr": "datum.value === 0 ? 'Ⅱ' : ''", "labelFontSize": {"condition": {"test": "datum.value !== 0", "value": 0}, "value": 15}, "labelPadding": 18, "minExtent": 77, "labelOffset": {"condition": {"test": "datum.value === 0", "value": 5}, "value": 0}, "labelFont": "Liberation Serif, DejaVu Serif, serif"}}}},
            {"width": 80, "height": 91, "view": {"fill": "#fbfbfb"}, "data": {"name": "ecg"}, "transform": [{"filter": "datum.lead === 'III'"}], "mark": {"type": "line", "color": "#7b7b7b", "strokeWidth": 1.5, "clip": true},
             "encoding": {"x": {"field": "t", "type": "quantitative", "scale": {"domain": [0, 0.8], "nice": false, "zero": false}, "axis": {"title": null, "tickCount": 8}},
                          "y": {"field": "mv", "type": "quantitative", "scale": {"domain": [-2.35, 2.2], "nice": false, "zero": false}, "axis": {"title": null, "tickCount": 9, "labelExpr": "datum.value === 0 ? 'Ⅲ' : ''", "labelFontSize": {"condition": {"test": "datum.value !== 0", "value": 0}, "value": 15}, "labelPadding": 18, "minExtent": 77, "labelOffset": {"condition": {"test": "datum.value === 0", "value": 5}, "value": 0}, "labelFont": "Liberation Serif, DejaVu Serif, serif"}}}},
            {"width": 80, "height": 98, "view": {"fill": "#fbfbfb"}, "data": {"name": "ecg"}, "transform": [{"filter": "datum.lead === 'aVR'"}], "mark": {"type": "line", "color": "#7b7b7b", "strokeWidth": 1.5, "clip": true},
             "encoding": {"x": {"field": "t", "type": "quantitative", "scale": {"domain": [0, 0.8], "nice": false, "zero": false}, "axis": {"title": null, "tickCount": 8}},
                          "y": {"field": "mv", "type": "quantitative", "scale": {"domain": [-2.5, 2.4], "nice": false, "zero": false}, "axis": {"title": null, "tickCount": 10, "labelExpr": "datum.value === 0 ? 'aVR' : ''", "labelFontSize": {"condition": {"test": "datum.value !== 0", "value": 0}, "value": 15}, "labelPadding": 18, "minExtent": 77, "labelOffset": {"condition": {"test": "datum.value === 0", "value": 4}, "value": 0}}}}},
            {"width": 80, "height": 95, "view": {"fill": "#fbfbfb"}, "data": {"name": "ecg"}, "transform": [{"filter": "datum.lead === 'aVL'"}], "mark": {"type": "line", "color": "#7b7b7b", "strokeWidth": 1.5, "clip": true},
             "encoding": {"x": {"field": "t", "type": "quantitative", "scale": {"domain": [0, 0.8], "nice": false, "zero": false}, "axis": {"title": null, "tickCount": 8}},
                          "y": {"field": "mv", "type": "quantitative", "scale": {"domain": [-2.25, 2.5], "nice": false, "zero": false}, "axis": {"title": null, "tickCount": 9, "labelExpr": "datum.value === 0 ? 'aVL' : ''", "labelFontSize": {"condition": {"test": "datum.value !== 0", "value": 0}, "value": 15}, "labelPadding": 18, "minExtent": 77}}}},
            {"width": 80, "height": 80, "view": {"fill": "#fbfbfb"}, "data": {"name": "ecg"}, "transform": [{"filter": "datum.lead === 'aVF'"}], "mark": {"type": "line", "color": "#7b7b7b", "strokeWidth": 1.5, "clip": true},
             "encoding": {"x": {"field": "t", "type": "quantitative", "scale": {"domain": [0, 0.8], "nice": false, "zero": false}, "axis": {"title": null, "tickCount": 8}},
                          "y": {"field": "mv", "type": "quantitative", "scale": {"domain": [-1.75, 2.25], "nice": false, "zero": false}, "axis": {"title": null, "tickCount": 8, "labelExpr": "datum.value === 0 ? 'aVF' : ''", "labelFontSize": {"condition": {"test": "datum.value !== 0", "value": 0}, "value": 15}, "labelPadding": 18, "minExtent": 77}}}}
          ]},
          {"spacing": 0, "vconcat": [
            {"width": 75, "height": 65, "view": {"fill": "#fbfbfb"}, "data": {"name": "ecg"}, "transform": [{"filter": "datum.lead === 'V1'"}], "mark": {"type": "line", "color": "#7b7b7b", "strokeWidth": 1.5, "clip": true},
             "encoding": {"x": {"field": "t", "type": "quantitative", "scale": {"domain": [0, 0.75], "nice": false, "zero": false}, "axis": {"title": null, "tickCount": 8}},
                          "y": {"field": "mv", "type": "quantitative", "scale": {"domain": [-1.6, 1.65], "nice": false, "zero": false}, "axis": {"title": null, "tickCount": 6, "labelExpr": "datum.value === 0 ? 'V1' : ''", "labelFontSize": {"condition": {"test": "datum.value !== 0", "value": 0}, "value": 15}, "labelPadding": 19.5, "minExtent": 67, "labelOffset": {"condition": {"test": "datum.value === 0", "value": -3}, "value": 0}}}}},
            {"width": 75, "height": 110, "view": {"fill": "#fbfbfb"}, "data": {"name": "ecg"}, "transform": [{"filter": "datum.lead === 'V2'"}], "mark": {"type": "line", "color": "#7b7b7b", "strokeWidth": 1.5, "clip": true},
             "encoding": {"x": {"field": "t", "type": "quantitative", "scale": {"domain": [0, 0.75], "nice": false, "zero": false}, "axis": {"title": null, "tickCount": 8}},
                          "y": {"field": "mv", "type": "quantitative", "scale": {"domain": [-2.6, 2.9], "nice": false, "zero": false}, "axis": {"title": null, "tickCount": 11, "labelExpr": "datum.value === 0 ? 'V2' : ''", "labelFontSize": {"condition": {"test": "datum.value !== 0", "value": 0}, "value": 15}, "labelPadding": 19.5, "minExtent": 67}}}},
            {"width": 75, "height": 110, "view": {"fill": "#fbfbfb"}, "data": {"name": "ecg"}, "transform": [{"filter": "datum.lead === 'V3'"}], "mark": {"type": "line", "color": "#7b7b7b", "strokeWidth": 1.5, "clip": true},
             "encoding": {"x": {"field": "t", "type": "quantitative", "scale": {"domain": [0, 0.75], "nice": false, "zero": false}, "axis": {"title": null, "tickCount": 8}},
                          "y": {"field": "mv", "type": "quantitative", "scale": {"domain": [-1.75, 3.75], "nice": false, "zero": false}, "axis": {"title": null, "tickCount": 11, "labelExpr": "datum.value === 0 ? 'V3' : ''", "labelFontSize": {"condition": {"test": "datum.value !== 0", "value": 0}, "value": 15}, "labelPadding": 19.5, "minExtent": 67}}}},
            {"width": 75, "height": 115, "view": {"fill": "#fbfbfb"}, "data": {"name": "ecg"}, "transform": [{"filter": "datum.lead === 'V4'"}], "mark": {"type": "line", "color": "#7b7b7b", "strokeWidth": 1.5, "clip": true},
             "encoding": {"x": {"field": "t", "type": "quantitative", "scale": {"domain": [0, 0.75], "nice": false, "zero": false}, "axis": {"title": null, "tickCount": 8}},
                          "y": {"field": "mv", "type": "quantitative", "scale": {"domain": [-1.1, 4.65], "nice": false, "zero": false}, "axis": {"title": null, "tickCount": 11, "labelExpr": "datum.value === 0 ? 'V4' : ''", "labelFontSize": {"condition": {"test": "datum.value !== 0", "value": 0}, "value": 15}, "labelPadding": 19.5, "minExtent": 67}}}},
            {"width": 75, "height": 95, "view": {"fill": "#fbfbfb"}, "data": {"name": "ecg"}, "transform": [{"filter": "datum.lead === 'V5'"}], "mark": {"type": "line", "color": "#7b7b7b", "strokeWidth": 1.5, "clip": true},
             "encoding": {"x": {"field": "t", "type": "quantitative", "scale": {"domain": [0, 0.75], "nice": false, "zero": false}, "axis": {"title": null, "tickCount": 8}},
                          "y": {"field": "mv", "type": "quantitative", "scale": {"domain": [-1.25, 3.5], "nice": false, "zero": false}, "axis": {"title": null, "tickCount": 9, "labelExpr": "datum.value === 0 ? 'V5' : ''", "labelFontSize": {"condition": {"test": "datum.value !== 0", "value": 0}, "value": 15}, "labelPadding": 19.5, "minExtent": 67, "labelOffset": {"condition": {"test": "datum.value === 0", "value": -4}, "value": 0}}}}},
            {"width": 75, "height": 57, "view": {"fill": "#fbfbfb"}, "data": {"name": "ecg"}, "transform": [{"filter": "datum.lead === 'V6'"}], "mark": {"type": "line", "color": "#7b7b7b", "strokeWidth": 1.5, "clip": true},
             "encoding": {"x": {"field": "t", "type": "quantitative", "scale": {"domain": [0, 0.75], "nice": false, "zero": false}, "axis": {"title": null, "tickCount": 8}},
                          "y": {"field": "mv", "type": "quantitative", "scale": {"domain": [-0.7, 2.15], "nice": false, "zero": false}, "axis": {"title": null, "tickCount": 6, "labelExpr": "datum.value === 0 ? 'V6' : ''", "labelFontSize": {"condition": {"test": "datum.value !== 0", "value": 0}, "value": 15}, "labelPadding": 19.5, "minExtent": 67}}}}
          ]},
          {"spacing": 0, "vconcat": [
            {"width": 75, "height": 95, "view": {"fill": "#fbfbfb"}, "data": {"name": "ecg"}, "transform": [{"filter": "datum.lead === 'V3R'"}], "mark": {"type": "line", "color": "#7b7b7b", "strokeWidth": 1.5, "clip": true},
             "encoding": {"x": {"field": "t", "type": "quantitative", "scale": {"domain": [0, 0.75], "nice": false, "zero": false}, "axis": {"title": null, "tickCount": 8}},
                          "y": {"field": "mv", "type": "quantitative", "scale": {"domain": [-2.35, 2.4], "nice": false, "zero": false}, "axis": {"title": null, "tickCount": 9, "labelExpr": "datum.value === 0 ? 'V3R' : ''", "labelFontSize": {"condition": {"test": "datum.value !== 0", "value": 0}, "value": 15}, "labelPadding": 18, "minExtent": 65}}}},
            {"width": 75, "height": 92, "view": {"fill": "#fbfbfb"}, "data": {"name": "ecg"}, "transform": [{"filter": "datum.lead === 'V4R'"}], "mark": {"type": "line", "color": "#7b7b7b", "strokeWidth": 1.5, "clip": true},
             "encoding": {"x": {"field": "t", "type": "quantitative", "scale": {"domain": [0, 0.75], "nice": false, "zero": false}, "axis": {"title": null, "tickCount": 8}},
                          "y": {"field": "mv", "type": "quantitative", "scale": {"domain": [-2.3, 2.3], "nice": false, "zero": false}, "axis": {"title": null, "tickCount": 9, "labelExpr": "datum.value === 0 ? 'V4R' : ''", "labelFontSize": {"condition": {"test": "datum.value !== 0", "value": 0}, "value": 15}, "labelPadding": 18, "minExtent": 65}}}},
            {"width": 75, "height": 91, "view": {"fill": "#fbfbfb"}, "data": {"name": "ecg"}, "transform": [{"filter": "datum.lead === 'V5R'"}], "mark": {"type": "line", "color": "#7b7b7b", "strokeWidth": 1.5, "clip": true},
             "encoding": {"x": {"field": "t", "type": "quantitative", "scale": {"domain": [0, 0.75], "nice": false, "zero": false}, "axis": {"title": null, "tickCount": 8}},
                          "y": {"field": "mv", "type": "quantitative", "scale": {"domain": [-2.25, 2.3], "nice": false, "zero": false}, "axis": {"title": null, "tickCount": 9, "labelExpr": "datum.value === 0 ? 'V5R' : ''", "labelFontSize": {"condition": {"test": "datum.value !== 0", "value": 0}, "value": 15}, "labelPadding": 18, "minExtent": 65}}}},
            {"width": 75, "height": 90, "view": {"fill": "#fbfbfb"}, "data": {"name": "ecg"}, "transform": [{"filter": "datum.lead === 'V7'"}], "mark": {"type": "line", "color": "#7b7b7b", "strokeWidth": 1.5, "clip": true},
             "encoding": {"x": {"field": "t", "type": "quantitative", "scale": {"domain": [0, 0.75], "nice": false, "zero": false}, "axis": {"title": null, "tickCount": 8}},
                          "y": {"field": "mv", "type": "quantitative", "scale": {"domain": [-2.2, 2.3], "nice": false, "zero": false}, "axis": {"title": null, "tickCount": 9, "labelExpr": "datum.value === 0 ? 'V7' : ''", "labelFontSize": {"condition": {"test": "datum.value !== 0", "value": 0}, "value": 15}, "labelPadding": 18, "minExtent": 65}}}},
            {"width": 75, "height": 98, "view": {"fill": "#fbfbfb"}, "data": {"name": "ecg"}, "transform": [{"filter": "datum.lead === 'V8'"}], "mark": {"type": "line", "color": "#7b7b7b", "strokeWidth": 1.5, "clip": true},
             "encoding": {"x": {"field": "t", "type": "quantitative", "scale": {"domain": [0, 0.75], "nice": false, "zero": false}, "axis": {"title": null, "tickCount": 8}},
                          "y": {"field": "mv", "type": "quantitative", "scale": {"domain": [-2.7, 2.2], "nice": false, "zero": false}, "axis": {"title": null, "tickCount": 10, "labelExpr": "datum.value === 0 ? 'V8' : ''", "labelFontSize": {"condition": {"test": "datum.value !== 0", "value": 0}, "value": 15}, "labelPadding": 18, "minExtent": 65}}}},
            {"width": 75, "height": 84, "view": {"fill": "#fbfbfb"}, "data": {"name": "ecg"}, "transform": [{"filter": "datum.lead === 'V9'"}], "mark": {"type": "line", "color": "#7b7b7b", "strokeWidth": 1.5, "clip": true},
             "encoding": {"x": {"field": "t", "type": "quantitative", "scale": {"domain": [0, 0.75], "nice": false, "zero": false}, "axis": {"title": null, "tickCount": 8}},
                          "y": {"field": "mv", "type": "quantitative", "scale": {"domain": [-1.5, 2.7], "nice": false, "zero": false}, "axis": {"title": null, "tickCount": 8, "labelExpr": "datum.value === 0 ? 'V9' : ''", "labelFontSize": {"condition": {"test": "datum.value !== 0", "value": 0}, "value": 15}, "labelPadding": 18, "minExtent": 65}}}}
          ]},
          {"spacing": 0, "vconcat": [
            {"width": 1, "height": 17, "data": {"values": [{}]}, "mark": {"type": "point", "size": 0, "opacity": 0}},
            {"width": 192, "height": 76, "view": {"fill": "#c8c8c8"}, "data": {"name": "panel"}, "transform": [{"filter": "datum.lead === 'V3R'"}],
             "encoding": {"x": {"field": "t", "type": "quantitative", "scale": {"domain": [0, 1.92], "nice": false, "zero": false}, "axis": null},
                          "y": {"field": "mv", "type": "quantitative", "scale": {"domain": [-1.85, 1.95], "nice": false, "zero": false}, "axis": {"title": null, "values": [-1.45, 0, 1.65], "gridColor": "#6e6e6e", "gridWidth": 2, "gridOpacity": {"condition": {"test": "datum.value === 0", "value": 0}, "value": 1}, "labelExpr": "datum.value === 0 ? 'V3R' : ''", "labelFontSize": {"condition": {"test": "datum.value !== 0", "value": 0}, "value": 15}, "labelPadding": 20, "minExtent": 75}},
                          "color": {"field": "series", "type": "nominal", "scale": {"domain": ["Actual", "Synthesized", "Differences"], "range": ["#2e2c6c", "#c9437f", "#e2e05e"]}, "legend": null}},
             "layer": [
               {"transform": [{"filter": "datum.series === 'Synthesized'"}], "mark": {"type": "line", "strokeWidth": 2.2, "opacity": 0.85, "clip": true}},
               {"transform": [{"filter": "datum.series === 'Actual'"}], "mark": {"type": "line", "strokeWidth": 1.7, "clip": true}},
               {"transform": [{"filter": "datum.series === 'Differences'"}], "mark": {"type": "line", "strokeWidth": 1.8, "clip": true}}
             ]},
            {"width": 1, "height": 15, "data": {"values": [{}]}, "mark": {"type": "point", "size": 0, "opacity": 0}},
            {"width": 192, "height": 77, "view": {"fill": "#c8c8c8"}, "data": {"name": "panel"}, "transform": [{"filter": "datum.lead === 'V4R'"}],
             "encoding": {"x": {"field": "t", "type": "quantitative", "scale": {"domain": [0, 1.92], "nice": false, "zero": false}, "axis": null},
                          "y": {"field": "mv", "type": "quantitative", "scale": {"domain": [-1.95, 1.9], "nice": false, "zero": false}, "axis": {"title": null, "values": [-1.5, 0, 1.65], "gridColor": "#6e6e6e", "gridWidth": 2, "gridOpacity": {"condition": {"test": "datum.value === 0", "value": 0}, "value": 1}, "labelExpr": "datum.value === 0 ? 'V4R' : ''", "labelFontSize": {"condition": {"test": "datum.value !== 0", "value": 0}, "value": 15}, "labelPadding": 20, "minExtent": 75, "labelOffset": {"condition": {"test": "datum.value === 0", "value": -2}, "value": 0}}},
                          "color": {"field": "series", "type": "nominal", "scale": {"domain": ["Actual", "Synthesized", "Differences"], "range": ["#2e2c6c", "#c9437f", "#e2e05e"]}, "legend": null}},
             "layer": [
               {"transform": [{"filter": "datum.series === 'Synthesized'"}], "mark": {"type": "line", "strokeWidth": 2.2, "opacity": 0.85, "clip": true}},
               {"transform": [{"filter": "datum.series === 'Actual'"}], "mark": {"type": "line", "strokeWidth": 1.7, "clip": true}},
               {"transform": [{"filter": "datum.series === 'Differences'"}], "mark": {"type": "line", "strokeWidth": 1.8, "clip": true}}
             ]},
            {"width": 1, "height": 12, "data": {"values": [{}]}, "mark": {"type": "point", "size": 0, "opacity": 0}},
            {"width": 192, "height": 84, "view": {"fill": "#c8c8c8"}, "data": {"name": "panel"}, "transform": [{"filter": "datum.lead === 'V5R'"}],
             "encoding": {"x": {"field": "t", "type": "quantitative", "scale": {"domain": [0, 1.92], "nice": false, "zero": false}, "axis": null},
                          "y": {"field": "mv", "type": "quantitative", "scale": {"domain": [-1.9, 2.3], "nice": false, "zero": false}, "axis": {"title": null, "values": [-1.45, 0, 1.75], "gridColor": "#6e6e6e", "gridWidth": 2, "gridOpacity": {"condition": {"test": "datum.value === 0", "value": 0}, "value": 1}, "labelExpr": "datum.value === 0 ? 'V5R' : ''", "labelFontSize": {"condition": {"test": "datum.value !== 0", "value": 0}, "value": 15}, "labelPadding": 20, "minExtent": 75, "labelOffset": {"condition": {"test": "datum.value === 0", "value": -12}, "value": 0}}},
                          "color": {"field": "series", "type": "nominal", "scale": {"domain": ["Actual", "Synthesized", "Differences"], "range": ["#2e2c6c", "#c9437f", "#e2e05e"]}, "legend": null}},
             "layer": [
               {"transform": [{"filter": "datum.series === 'Synthesized'"}], "mark": {"type": "line", "strokeWidth": 2.2, "opacity": 0.85, "clip": true}},
               {"transform": [{"filter": "datum.series === 'Actual'"}], "mark": {"type": "line", "strokeWidth": 1.7, "clip": true}},
               {"transform": [{"filter": "datum.series === 'Differences'"}], "mark": {"type": "line", "strokeWidth": 1.8, "clip": true}}
             ]},
            {"width": 1, "height": 6, "data": {"values": [{}]}, "mark": {"type": "point", "size": 0, "opacity": 0}},
            {"width": 192, "height": 81, "view": {"fill": "#c8c8c8"}, "data": {"name": "panel"}, "transform": [{"filter": "datum.lead === 'V7'"}],
             "encoding": {"x": {"field": "t", "type": "quantitative", "scale": {"domain": [0, 1.92], "nice": false, "zero": false}, "axis": null},
                          "y": {"field": "mv", "type": "quantitative", "scale": {"domain": [-2.0, 2.05], "nice": false, "zero": false}, "axis": {"title": null, "values": [-1.55, 0, 1.45], "gridColor": "#6e6e6e", "gridWidth": 2, "gridOpacity": {"condition": {"test": "datum.value === 0", "value": 0}, "value": 1}, "labelExpr": "datum.value === 0 ? 'V7' : ''", "labelFontSize": {"condition": {"test": "datum.value !== 0", "value": 0}, "value": 15}, "labelPadding": 20, "minExtent": 75, "labelOffset": {"condition": {"test": "datum.value === 0", "value": -6}, "value": 0}}},
                          "color": {"field": "series", "type": "nominal", "scale": {"domain": ["Actual", "Synthesized", "Differences"], "range": ["#2e2c6c", "#c9437f", "#e2e05e"]}, "legend": null}},
             "layer": [
               {"transform": [{"filter": "datum.series === 'Synthesized'"}], "mark": {"type": "line", "strokeWidth": 2.2, "opacity": 0.85, "clip": true}},
               {"transform": [{"filter": "datum.series === 'Actual'"}], "mark": {"type": "line", "strokeWidth": 1.7, "clip": true}},
               {"transform": [{"filter": "datum.series === 'Differences'"}], "mark": {"type": "line", "strokeWidth": 1.8, "clip": true}}
             ]},
            {"width": 1, "height": 9, "data": {"values": [{}]}, "mark": {"type": "point", "size": 0, "opacity": 0}},
            {"width": 192, "height": 79, "view": {"fill": "#c8c8c8"}, "data": {"name": "panel"}, "transform": [{"filter": "datum.lead === 'V8'"}],
             "encoding": {"x": {"field": "t", "type": "quantitative", "scale": {"domain": [0, 1.92], "nice": false, "zero": false}, "axis": null},
                          "y": {"field": "mv", "type": "quantitative", "scale": {"domain": [-1.95, 2.0], "nice": false, "zero": false}, "axis": {"title": null, "values": [-1.7, 0, 1.45], "gridColor": "#6e6e6e", "gridWidth": 2, "gridOpacity": {"condition": {"test": "datum.value === 0", "value": 0}, "value": 1}, "labelExpr": "datum.value === 0 ? 'V8' : ''", "labelFontSize": {"condition": {"test": "datum.value !== 0", "value": 0}, "value": 15}, "labelPadding": 20, "minExtent": 75, "labelOffset": {"condition": {"test": "datum.value === 0", "value": -7}, "value": 0}}},
                          "color": {"field": "series", "type": "nominal", "scale": {"domain": ["Actual", "Synthesized", "Differences"], "range": ["#2e2c6c", "#c9437f", "#e2e05e"]}, "legend": null}},
             "layer": [
               {"transform": [{"filter": "datum.series === 'Synthesized'"}], "mark": {"type": "line", "strokeWidth": 2.2, "opacity": 0.85, "clip": true}},
               {"transform": [{"filter": "datum.series === 'Actual'"}], "mark": {"type": "line", "strokeWidth": 1.7, "clip": true}},
               {"transform": [{"filter": "datum.series === 'Differences'"}], "mark": {"type": "line", "strokeWidth": 1.8, "clip": true}}
             ]},
            {"width": 1, "height": 16, "data": {"values": [{}]}, "mark": {"type": "point", "size": 0, "opacity": 0}},
            {"width": 192, "height": 83, "view": {"fill": "#c8c8c8"}, "data": {"name": "panel"}, "transform": [{"filter": "datum.lead === 'V9'"}],
             "encoding": {"x": {"field": "t", "type": "quantitative", "scale": {"domain": [0, 1.92], "nice": false, "zero": false}, "axis": null},
                          "y": {"field": "mv", "type": "quantitative", "scale": {"domain": [-2.1, 2.05], "nice": false, "zero": false}, "axis": {"title": null, "values": [-1.6, 0, 1.45], "gridColor": "#6e6e6e", "gridWidth": 2, "gridOpacity": {"condition": {"test": "datum.value === 0", "value": 0}, "value": 1}, "labelExpr": "datum.value === 0 ? 'V9' : ''", "labelFontSize": {"condition": {"test": "datum.value !== 0", "value": 0}, "value": 15}, "labelPadding": 20, "minExtent": 75, "labelOffset": {"condition": {"test": "datum.value === 0", "value": 6}, "value": 0}}},
                          "color": {"field": "series", "type": "nominal", "scale": {"domain": ["Actual", "Synthesized", "Differences"], "range": ["#2e2c6c", "#c9437f", "#e2e05e"]}, "legend": null}},
             "layer": [
               {"transform": [{"filter": "datum.series === 'Synthesized'"}], "mark": {"type": "line", "strokeWidth": 2.2, "opacity": 0.85, "clip": true}},
               {"transform": [{"filter": "datum.series === 'Actual'"}], "mark": {"type": "line", "strokeWidth": 1.7, "clip": true}},
               {"transform": [{"filter": "datum.series === 'Differences'"}], "mark": {"type": "line", "strokeWidth": 1.8, "clip": true}}
             ]}
          ]},
          {"width": 20, "height": 1, "data": {"values": [{}]}, "mark": {"type": "point", "size": 0, "opacity": 0}},
          {"spacing": 0, "vconcat": [
            {"width": 1, "height": 150, "data": {"values": [{}]}, "mark": {"type": "point", "size": 0, "opacity": 0}},
            {"width": 154, "height": 201, "data": {"name": "legend"},
             "encoding": {"y": {"field": "series", "type": "nominal", "scale": {"type": "point", "domain": ["Actual", "Synthesized", "Differences"], "padding": 0.5}, "axis": null}},
             "layer": [
               {"mark": {"type": "rule", "strokeWidth": 3}, "encoding": {"color": {"field": "series", "type": "nominal", "scale": {"domain": ["Actual", "Synthesized", "Differences"], "range": ["#2e2c6c", "#c9437f", "#e2e05e"]}, "legend": null}}},
               {"mark": {"type": "text", "font": "Liberation Sans", "fontSize": 15, "color": "#1a1a1a", "align": "center", "baseline": "middle", "dy": -16}, "encoding": {"text": {"field": "series", "type": "nominal"}}}
             ]}
          ]}
        ]}
      ]}
    ]}
  ]}
]
}
